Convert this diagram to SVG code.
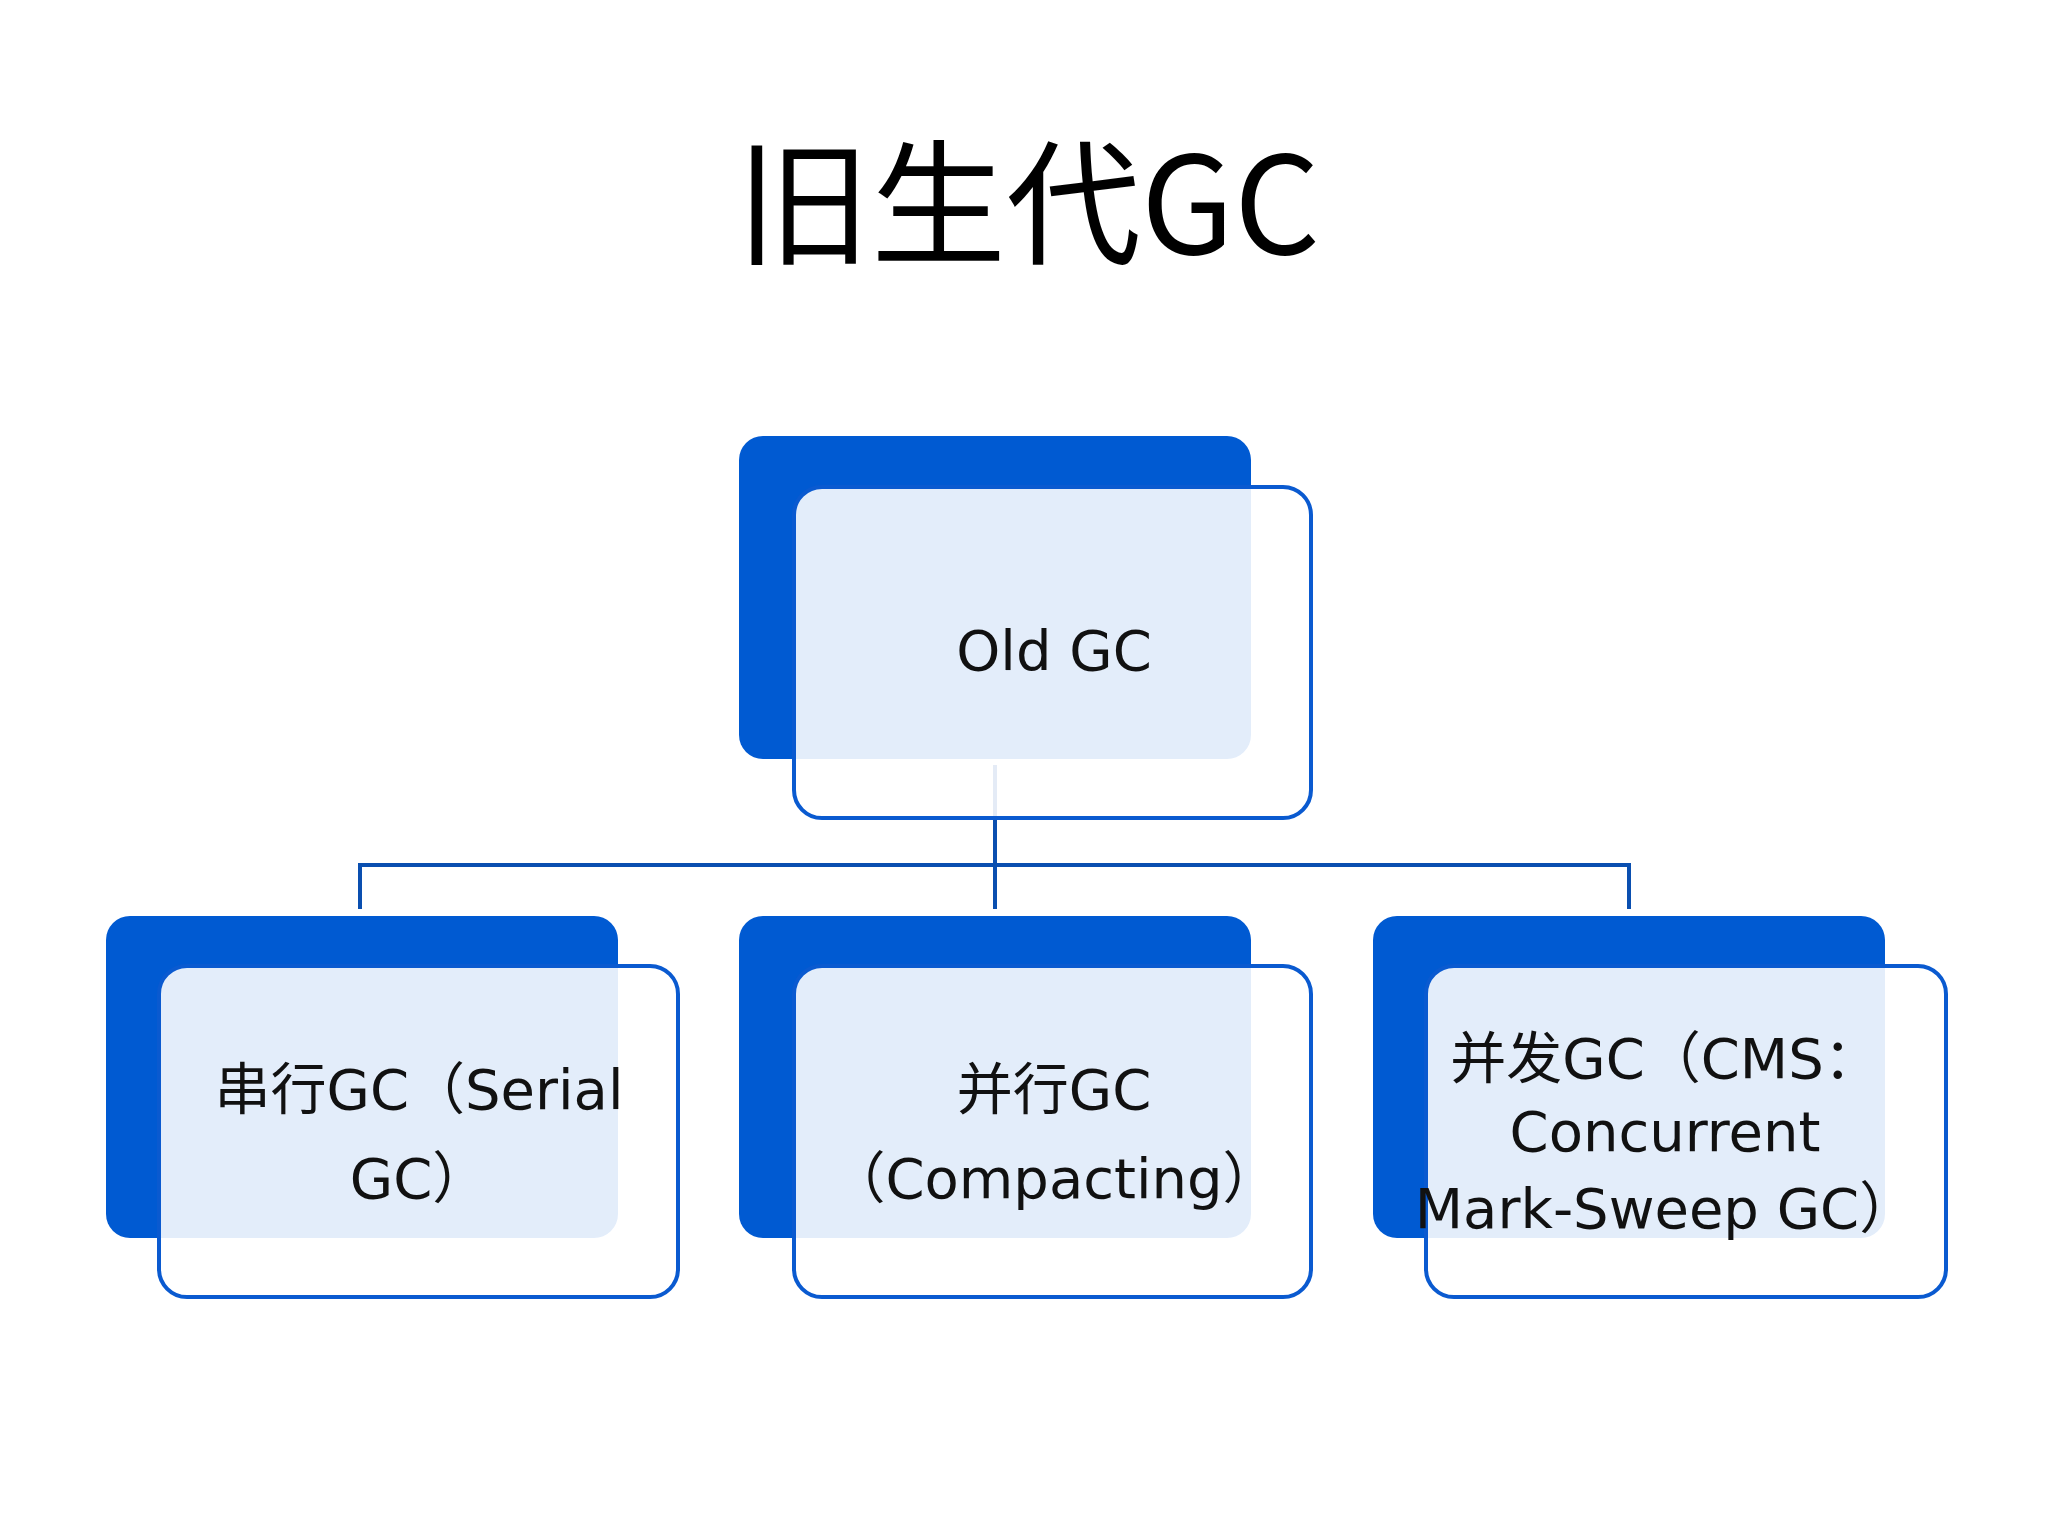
<svg xmlns="http://www.w3.org/2000/svg" width="2048" height="1536" viewBox="0 0 2048 1536">
<style>
.back{fill:#005ad2}
.front{fill:#ffffff;fill-opacity:0.89;stroke:#0a5ad0;stroke-width:4}
.t{font-family:"DejaVu Sans","Noto Sans CJK SC",sans-serif;font-size:56px;fill:#111;text-anchor:middle;dominant-baseline:central}
.c{stroke:#0a4fb0;stroke-width:4;fill:none}
</style>
<rect width="2048" height="1536" fill="#fff"/>
<text x="1028" y="195" font-family="'Noto Sans CJK SC',sans-serif" font-size="135" text-anchor="middle" dominant-baseline="central" fill="#000">旧生代GC</text>
<g id="connectors">
<path class="c" d="M995 765V909M360 909V865H1629V909"/>
</g>
<g id="old">
<rect class="back" x="739" y="436" width="512" height="323" rx="24"/>
<rect class="front" x="794" y="487" width="517" height="331" rx="28"/>
<text class="t" x="1054" y="650">Old GC</text>
</g>
<g id="serial">
<rect class="back" x="106" y="916" width="512" height="322" rx="24"/>
<rect class="front" x="159" y="966" width="519" height="331" rx="28"/>
<text class="t" x="419" y="1089">串行GC（Serial</text>
<text class="t" x="419" y="1178">GC）</text>
</g>
<g id="parallel">
<rect class="back" x="739" y="916" width="512" height="322" rx="24"/>
<rect class="front" x="794" y="966" width="517" height="331" rx="28"/>
<text class="t" x="1054" y="1089">并行GC</text>
<text class="t" x="1054" y="1178">（Compacting）</text>
</g>
<g id="cms">
<rect class="back" x="1373" y="916" width="512" height="322" rx="24"/>
<rect class="front" x="1426" y="966" width="520" height="331" rx="28"/>
<text class="t" x="1665" y="1058">并发GC（CMS：</text>
<text class="t" x="1665" y="1131">Concurrent</text>
<text class="t" x="1665" y="1208">Mark-Sweep GC）</text>
</g>
</svg>
